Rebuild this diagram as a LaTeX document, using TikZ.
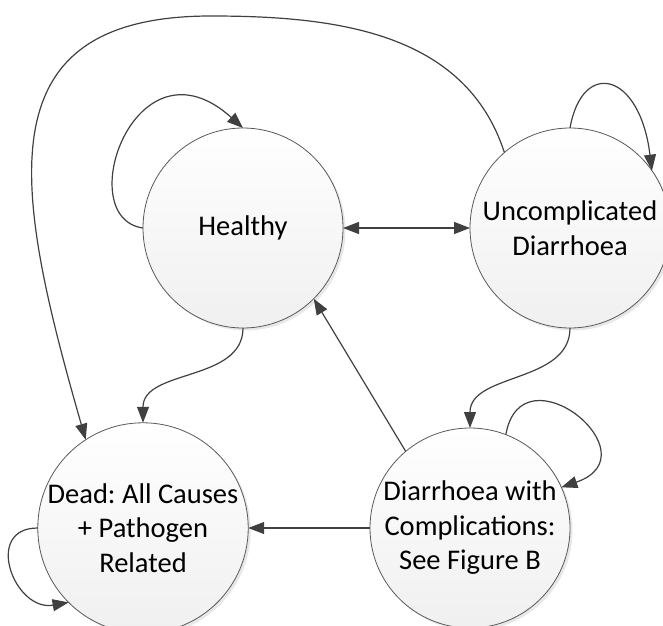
\documentclass[tikz,border=0pt]{standalone}
\usepackage{fontspec}
\setmainfont{Carlito}
\usepackage{tikz}
\usetikzlibrary{arrows.meta, shadows}
\xdef\LWS{1.2pt}
\xdef\ColorLn{black!75}
\xdef\ColorRim{black!65}
\frenchspacing

\begin{document}
\begin{tikzpicture}[x=1pt,y=1pt,inner sep=0,outer sep=0,
  >={Triangle[length=16pt,width=12pt]},
  statecirc/.style={circle,minimum size=200pt,draw=\ColorRim,line width=0.8pt,
    top color=white,bottom color=black!6,
    drop shadow={shadow xshift=2.5pt,shadow yshift=-2.5pt,opacity=0.18},
    align=center,font=\fontsize{28.5}{34.5}\selectfont},
  link/.style={line width=\LWS,color=\ColorLn,->}]
\useasboundingbox (0,0) rectangle (663,625);
% states
\node[statecirc] (H) at (243,397) {Healthy};
\node[statecirc] (U) at (570,397) {Uncomplicated\\Diarrhoea};
\node[statecirc] (D) at (143,97) {Dead: All Causes\\+ Pathogen\\Related};
\node[statecirc] (C) at (470,97) {Diarrhoea with\\Complications:\\See Figure B};
\coordinate (arcTop) at (211,609);
% transitions
\draw[link,<->] (H) -- (U);
\draw[link] (H.west) to[out=172,in=138,out distance=73pt,in distance=145pt] (H.north);
\draw[link] (U.north) to[out=80,in=97,out distance=70pt,in distance=100pt] (U.35);
\draw[link] (D.west) to[out=180,in=190,out distance=55pt,in distance=55pt] (D.225);
\draw[link] (C.69) to[out=80,in=19,out distance=90pt,in distance=100pt] (C.24);
\draw[link] (H.south) to[out=-90,in=90] (D.north);
\draw[link] (U.south) to[out=-90,in=90] (C.north);
\draw[link] (C.130) -- (H.-45);
\draw[link] (C) -- (D);
\draw[link] (U.131) to[out=108,in=0] (arcTop) to[out=180,in=106,out distance=230pt,in distance=260pt] (D.123);
\end{tikzpicture}
\end{document}
